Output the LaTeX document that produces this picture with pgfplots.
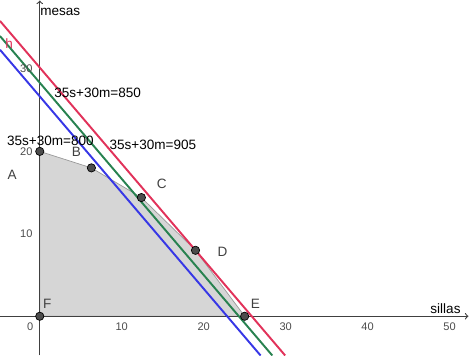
\documentclass[border=0pt]{standalone}
\usepackage{pgfplots}
\pgfplotsset{compat=1.18}
\usepackage{fontspec}
\setmainfont{Liberation Sans}
\definecolor{ggred}{RGB}{225,50,90}
\definecolor{gggreen}{RGB}{40,130,80}
\definecolor{ggblue}{RGB}{55,55,230}
\begin{document}
\begin{tikzpicture}[tl/.style={font=\fontsize{8}{9}\selectfont, text=black!70}, lb/.style={font=\fontsize{9.8}{11}\selectfont}]
\begin{axis}[
  scale only axis, width=12cm, height=9.134cm,
  xmin=-4.85, xmax=52.7, ymin=-4.76, ymax=38.8,
  axis lines=none,
  xtick={10,20,30,40,50}, ytick={10,20,30},
  minor xtick={-4,-2,...,52}, minor ytick={-4,-2,...,38},
  grid=both,
  major grid style={draw=black!17, line width=0.6pt},
  minor grid style={draw=black!7, line width=0.5pt},
  xticklabels={}, yticklabels={},
  clip=true,
]
% feasible region
\addplot[fill=black!16, draw=black!40, line width=0.5pt] coordinates {(0,0) (0,20) (6.3,18) (12.4,14.4) (19,8) (25,0)} -- cycle;
% axes
\draw[->, line width=0.8pt, black!75] (axis cs:-4.85,0) -- (axis cs:52.3,0);
\draw[->, line width=0.8pt, black!75] (axis cs:0,-4.76) -- (axis cs:0,38.3);
% objective lines
\addplot[ggred, line width=1.4pt] coordinates {(-4.85,35.825) (29.94,-4.76)};
\addplot[gggreen, line width=1.4pt] coordinates {(-4.85,33.99) (28.37,-4.76)};
\addplot[ggblue, line width=1.4pt] coordinates {(-4.85,32.33) (26.94,-4.76)};
% points
\addplot[only marks, mark=*, mark size=3pt, mark options={fill=black!70, draw=black, line width=0.5pt}] coordinates {(0,0) (0,20) (6.3,18) (12.4,14.4) (19,8) (25,0)};
% tick labels
\node[tl] at (axis cs:10,-1.22) {10};
\node[tl] at (axis cs:20,-1.22) {20};
\node[tl] at (axis cs:30,-1.22) {30};
\node[tl] at (axis cs:40,-1.22) {40};
\node[tl] at (axis cs:50,-1.22) {50};
\node[tl, anchor=east] at (axis cs:-0.3,10) {10};
\node[tl, anchor=east] at (axis cs:-0.3,20) {20};
\node[tl, anchor=east] at (axis cs:-0.3,30) {30};
\node[tl] at (axis cs:-1.17,-1.22) {0};
% labels
\node[lb] at (axis cs:7.06,27.07) {35s+30m=850};
\node[lb] at (axis cs:1.29,21.3) {35s+30m=800};
\node[lb] at (axis cs:13.8,20.85) {35s+30m=905};
\node[lb, text=black!75] at (axis cs:-3.37,17.1) {A};
\node[lb, text=black!75] at (axis cs:4.48,19.9) {B};
\node[lb, text=black!75] at (axis cs:14.9,16.1) {C};
\node[lb, text=black!75] at (axis cs:22.3,7.8) {D};
\node[lb, text=black!75] at (axis cs:26.3,1.46) {E};
\node[lb, text=black!75] at (axis cs:0.92,1.46) {F};
\node[lb, text=ggred] at (axis cs:-3.74,33.05) {h};
\node[lb] at (axis cs:2.5,36.95) {mesas};
\node[lb] at (axis cs:49.5,0.95) {sillas};
\end{axis}
\end{tikzpicture}
\end{document}
